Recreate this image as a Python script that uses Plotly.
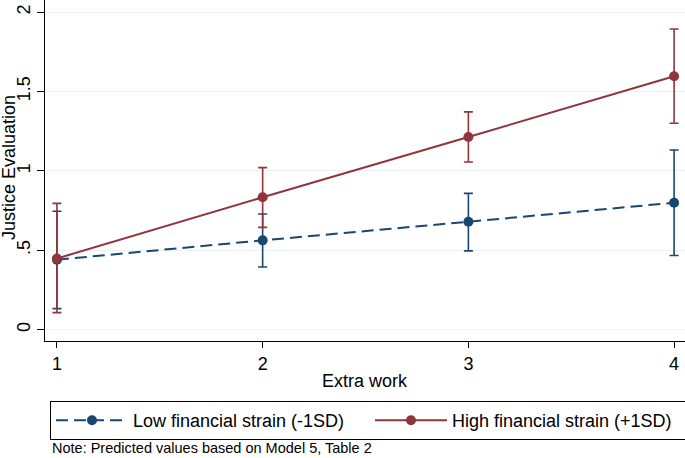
import plotly.graph_objects as go

# Data
extra_work = [1, 2, 3, 4]
x_ticks = [1, 2, 3, 4]
y_tickvals = [0, 0.5, 1, 1.5, 2]
y_ticktext = ["0", ".5", "1", "1.5", "2"]

low_name = "Low financial strain (-1SD)"
low_pred = [0.44, 0.562, 0.679, 0.799]
low_upper = [0.745, 0.728, 0.858, 1.131]
low_lower = [0.132, 0.394, 0.496, 0.467]

high_name = "High financial strain (+1SD)"
high_pred = [0.448, 0.833, 1.213, 1.596]
high_upper = [0.795, 1.020, 1.371, 1.893]
high_lower = [0.107, 0.644, 1.056, 1.300]

x_title = "Extra work"
y_title = "Justice Evaluation"
note_text = "Note: Predicted values based on Model 5, Table 2"

BLUE = "#1a476f"
RED = "#90353b"
FONT = "Liberation Sans, Arial, Helvetica, sans-serif"

def err(pred, up, lo, color):
    return dict(type="data", symmetric=False,
                array=[u - p for u, p in zip(up, pred)],
                arrayminus=[p - l for p, l in zip(pred, lo)],
                thickness=1.6, width=4.5, color=color)

fig = go.Figure()
fig.add_trace(go.Scatter(
    x=extra_work, y=low_pred, name=low_name, mode="lines+markers",
    line=dict(color=BLUE, width=2, dash="12px,6px"),
    marker=dict(color=BLUE, size=10),
    error_y=err(low_pred, low_upper, low_lower, BLUE)))
fig.add_trace(go.Scatter(
    x=extra_work, y=high_pred, name=high_name, mode="lines+markers",
    line=dict(color=RED, width=2),
    marker=dict(color=RED, size=10),
    error_y=err(high_pred, high_upper, high_lower, RED)))

fig.update_layout(
    width=685, height=458,
    margin=dict(l=45, r=0, t=0, b=117, autoexpand=False),
    paper_bgcolor="white", plot_bgcolor="white",
    font=dict(family=FONT, size=18, color="black"),
    xaxis=dict(range=[0.942, 4.053], tickvals=x_ticks, ticks="outside",
               ticklen=6, tickcolor="black", showline=True, linecolor="black",
               linewidth=1, showgrid=False, zeroline=False, automargin=False,
               tickfont=dict(size=18)),
    yaxis=dict(range=[-0.072, 2.076], tickvals=y_tickvals, ticktext=y_ticktext,
               tickangle=-90, ticks="outside", ticklen=7, tickcolor="black",
               showline=True, linecolor="black", linewidth=1, automargin=False,
               showgrid=True, gridcolor="#eaf2f3", gridwidth=1, zeroline=False,
               tickfont=dict(size=18)),
    showlegend=True,
    legend=dict(orientation="h", x=0.0078, y=-0.176, xanchor="left", yanchor="top",
                bordercolor="black", borderwidth=1, itemwidth=72,
                entrywidth=232, entrywidthmode="pixels",
                font=dict(size=18)),
    annotations=[
        dict(text=x_title, xref="paper", yref="paper", x=0.5, y=-0.117,
             xanchor="center", yanchor="middle", showarrow=False,
             font=dict(size=18)),
        dict(text=y_title, xref="paper", yref="paper", x=-0.05625, y=0.507,
             xanchor="center", yanchor="middle", textangle=-90, showarrow=False,
             font=dict(size=18)),
        dict(text=note_text, xref="paper", yref="paper",
             x=0.0078, y=-0.3431, xanchor="left", yanchor="bottom",
             showarrow=False, font=dict(size=14.5)),
    ],
)

fig.write_html("out.html", config={"displayModeBar": False},
               post_script="document.body.style.margin='0';")
